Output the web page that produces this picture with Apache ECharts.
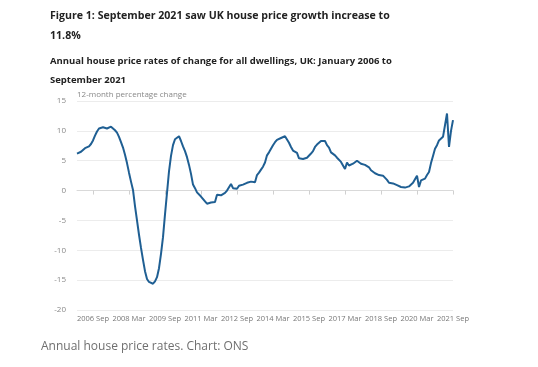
<!DOCTYPE html>
<html>
<head>
<meta charset="utf-8">
<script src="https://cdn.jsdelivr.net/npm/echarts@6/dist/echarts.min.js"></script>
<style>
html,body{margin:0;padding:0;background:#fff;}
#chart{width:538px;height:367px;}
</style>
</head>
<body>
<div id="chart"></div>
<script>
// Annual % change, monthly, Jan 2006 - Sep 2021
var y2006 = [6.2, 6.4, 6.5, 6.7, 7.1, 6.9, 7.4, 7.8, 8.4, 9.2, 9.9, 10.4];
var y2007 = [10.5, 10.6, 10.5, 10.4, 10.6, 10.7, 10.5, 10.1, 9.7, 9.0, 8.1, 7.2];
var y2008 = [6.0, 4.6, 3.0, 1.5, 0.1, -2.6, -5.0, -7.4, -9.6, -11.6, -13.5, -14.8];
var y2009 = [-15.3, -15.6, -15.6, -15.2, -14.5, -13.0, -10.6, -7.8, -4.0, -0.4, 3.2, 5.8];
var y2010 = [7.6, 8.6, 8.9, 9.1, 8.3, 7.4, 6.6, 5.6, 4.3, 2.8, 1.0, 0.4];
var y2011 = [-0.3, -0.6, -1.0, -1.3, -1.8, -2.2, -2.1, -2.0, -2.0, -1.9, -0.7, -0.9];
var y2012 = [-0.8, -0.6, -0.4, 0.0, -0.3, 1.1, 0.4, 0.3, 0.3, 0.8, 0.9, 1.0];
var y2013 = [1.1, 1.3, 1.4, 1.5, 1.4, 1.4, 2.6, 3.0, 3.5, 4.0, 4.7, 5.9];
var y2014 = [6.4, 6.4, 7.6, 8.1, 8.5, 8.7, 8.8, 8.9, 9.1, 9.3, 8.0, 7.3];
var y2015 = [6.7, 6.4, 6.3, 5.4, 5.3, 5.3, 5.2, 5.5, 5.3, 6.2, 6.6, 7.3];
var y2016 = [7.7, 7.8, 8.3, 8.0, 8.3, 7.6, 7.2, 6.4, 6.1, 5.9, 5.5, 5.3];
var y2017 = [4.8, 4.5, 3.6, 4.7, 4.2, 4.3, 4.5, 4.7, 5.0, 4.9, 4.5, 4.4];
var y2018 = [4.3, 4.1, 3.9, 3.4, 3.1, 2.9, 2.8, 2.6, 2.7, 2.5, 2.2, 1.8];
var y2019 = [1.3, 1.1, 1.2, 1.0, 0.9, 0.7, 0.6, 0.4, 0.5, 0.8, 0.7, 0.8];
var y2020 = [1.3, 1.2, 2.5, 0.6, 1.7, 1.6, 2.0, 2.6, 3.1, 4.6, 5.8, 7.0];
var y2021 = [7.6, 8.4, 8.7, 9.0, 9.3, 12.9, 7.3, 10.0, 11.8];

var monthNames = ['Jan','Feb','Mar','Apr','May','Jun','Jul','Aug','Sep','Oct','Nov','Dec'];
var tickLabels = ['2006 Sep','2008 Mar','2009 Sep','2011 Mar','2012 Sep','2014 Mar','2015 Sep','2017 Mar','2018 Sep','2020 Mar','2021 Sep'];

var values = [].concat(y2006, y2007, y2008, y2009, y2010, y2011, y2012, y2013,
  y2014, y2015, y2016, y2017, y2018, y2019, y2020, y2021);
var categories = [];
for (var i = 0; i < values.length; i++) {
  categories.push((2006 + Math.floor(i / 12)) + ' ' + monthNames[i % 12]);
}
function isTick(idx) { return tickLabels.indexOf(categories[idx]) >= 0; }

function t(text, left, top, size, weight, color) {
  return { text: text, left: left, top: top, padding: 0,
    textStyle: { fontFamily: 'Open Sans', fontWeight: weight, fontSize: size, color: color } };
}

var chart = echarts.init(document.getElementById('chart'));
chart.setOption({
  animation: false,
  backgroundColor: '#ffffff',
  title: [
    t('Figure 1: September 2021 saw UK house price growth increase to', 50, 10, 10.6, 'bold', '#222'),
    t('11.8%', 50, 30, 10.6, 'bold', '#222'),
    t('Annual house price rates of change for all dwellings, UK: January 2006 to', 50, 56, 9.5, 'bold', '#222'),
    t('September 2021', 50, 75, 9.5, 'bold', '#222'),
    t('12-month percentage change', 77, 91, 8, 'normal', '#888'),
    t('Annual house price rates. Chart: ONS', 41, 341, 12, 'normal', '#6f6f6f')
  ],
  grid: { left: 77, right: 85, top: 101, bottom: 57, containLabel: false },
  xAxis: {
    type: 'category',
    data: categories,
    boundaryGap: false,
    axisLine: { lineStyle: { color: '#d9d9d9' } },
    axisTick: { show: true, length: 4, interval: function (idx) { return isTick(idx); }, lineStyle: { color: '#d0d0d0' } },
    axisLabel: {
      interval: function (idx) { return isTick(idx); },
      fontFamily: 'Open Sans', fontSize: 7.5, color: '#777', margin: 5
    },
    splitLine: { show: false }
  },
  yAxis: {
    type: 'value',
    min: -20, max: 15, interval: 5,
    axisLine: { show: false },
    axisTick: { show: false },
    axisLabel: { fontFamily: 'Open Sans', fontSize: 8, color: '#888', margin: 11 },
    splitLine: { lineStyle: { color: '#ececec' } }
  },
  series: [{
    type: 'line',
    data: values,
    showSymbol: false,
    smooth: false,
    lineStyle: { color: '#1f5f93', width: 2 },
    itemStyle: { color: '#1f5f93' }
  }]
});
</script>
</body>
</html>
